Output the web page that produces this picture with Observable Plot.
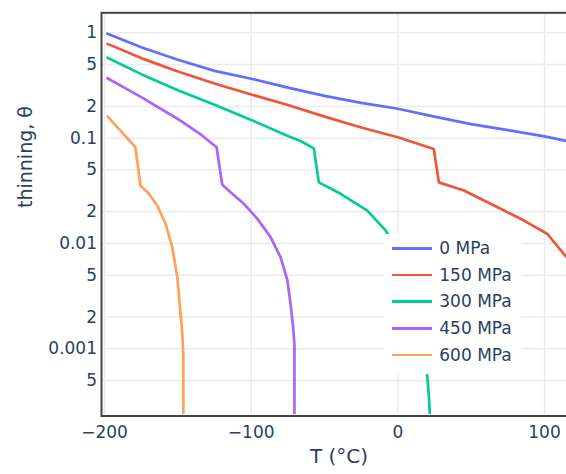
<!DOCTYPE html>
<html>
<head>
<meta charset="utf-8">
<script src="https://cdn.jsdelivr.net/npm/d3@7"></script>
<script src="https://cdn.jsdelivr.net/npm/@observablehq/plot@0.6"></script>
<style>
html, body { margin: 0; padding: 0; background: #fff; }
#chart { position: relative; width: 566px; height: 474px; overflow: hidden; }
#legend { position: absolute; left: 384px; top: 234px; width: 137px; height: 140px; background: #fff;
  font-family: "DejaVu Sans", sans-serif; font-size: 17px; color: #2a3f5f; }
.row { position: absolute; left: 0; height: 26.7px; display: flex; align-items: center; }
.sw { width: 40px; height: 2.7px; margin-left: 7.7px; }
.lb { margin-left: 7.6px; white-space: nowrap; line-height: 1; }
</style>
</head>
<body>
<div id="chart"></div>
<script>
// ---- data ----
const seriesNames = ["0 MPa", "150 MPa", "300 MPa", "450 MPa", "600 MPa"];

const T_0 = [-198, -175, -150, -125, -100, -75, -50, -25, 0, 25, 50, 75, 100, 115];
const theta_0 = [0.98, 0.73, 0.555, 0.435, 0.366, 0.302, 0.252, 0.216, 0.190, 0.160, 0.136, 0.119, 0.104, 0.094];

const T_150 = [-198, -175, -150, -125, -100, -75, -50, -25, 0, 24.5, 28, 45, 68, 86, 102, 115];
const theta_150 = [0.785, 0.575, 0.43, 0.33, 0.26, 0.206, 0.160, 0.126, 0.102, 0.079, 0.038, 0.0318, 0.0221, 0.0165, 0.0123, 0.0074];

const T_300 = [-198, -175, -150, -125, -100, -75, -66, -57.3, -53.9, -39, -32, -21, -8.4, 0, 8, 14, 18, 20, 21.2, 21.8, 22];
const theta_300 = [0.58, 0.405, 0.285, 0.207, 0.149, 0.105, 0.0935, 0.080, 0.038, 0.0296, 0.0256, 0.0206, 0.0133, 0.0085, 0.0045, 0.0022, 0.0011, 0.00056, 0.00035, 0.00024, 0.0001];

const T_450 = [-198, -175, -150, -135, -123.6, -119.8, -114.1, -105, -95.9, -86.8, -80, -75.4, -73.2, -71.4, -70.5, -70.5];
const theta_450 = [0.37, 0.245, 0.152, 0.110, 0.082, 0.0363, 0.0307, 0.0238, 0.0172, 0.0115, 0.0074, 0.0045, 0.0027, 0.0016, 0.0011, 0.0001];

const T_600 = [-198, -179, -175.5, -169.8, -164.1, -158.4, -153.9, -150.4, -148.6, -147, -146.3, -146.3];
const theta_600 = [0.161, 0.082, 0.0355, 0.0296, 0.0229, 0.0154, 0.0093, 0.0048, 0.0025, 0.0014, 0.0009, 0.0001];

const xTicks = [-200, -100, 0, 100];
const xTickLabels = ["\u2212200", "\u2212100", "0", "100"];
const yTicks = [1, 0.5, 0.2, 0.1, 0.05, 0.02, 0.01, 0.005, 0.002, 0.001, 0.0005];
const yTickLabels = ["1", "5", "2", "0.1", "5", "2", "0.01", "5", "2", "0.001", "5"];

const xTitle = "T (\u00B0C)";
const yTitle = "thinning, \u03B8";

// ---- styles ----
const colors = ["#636efa", "#EF553B", "#00cc96", "#ab63fa", "#FFA15A"];
const textColor = "#2a3f5f";
const gridColor = "#ebebeb";
const fontFamily = "DejaVu Sans";

// ---- build table ----
const seriesT = [T_0, T_150, T_300, T_450, T_600];
const seriesTheta = [theta_0, theta_150, theta_300, theta_450, theta_600];
const rows = [];
seriesNames.forEach((name, s) => {
  seriesT[s].forEach((t, i) => rows.push({series: name, T: t, theta: seriesTheta[s][i]}));
});

const xLabelOf = new Map(xTicks.map((v, i) => [v, xTickLabels[i]]));
const yLabelOf = new Map(yTicks.map((v, i) => [v, yTickLabels[i]]));

const chart = Plot.plot({
  width: 566,
  height: 474,
  marginLeft: 102,
  marginRight: 0,
  marginTop: 14,
  marginBottom: 60,
  style: {fontFamily: fontFamily, fontSize: "17px", color: textColor, background: "#fff"},
  x: {domain: [-201.4, 115], label: null},
  y: {type: "log", domain: [0.0002377, 1.492], label: null, axis: null},
  color: {domain: seriesNames, range: colors},
  marks: [
    Plot.gridX(xTicks, {stroke: gridColor, strokeOpacity: 1, strokeWidth: 1.5}),
    Plot.ruleY(yTicks, {y: d => d, stroke: gridColor, strokeOpacity: 1, strokeWidth: 1.5}),
    Plot.line(rows, {x: "T", y: "theta", z: "series", stroke: "series", strokeWidth: 2.7,
      strokeLinejoin: "round", clip: true}),
    Plot.frame({stroke: "#444", strokeWidth: 2, insetLeft: -1, insetTop: -1.7, insetBottom: -1.5, insetRight: -4}),
    Plot.axisX(xTicks, {tickSize: 0, tickPadding: 11, fontSize: 17, tickFormat: d => xLabelOf.get(d)}),
    Plot.text(yTicks, {y: d => d, text: d => yLabelOf.get(d), frameAnchor: "left", textAnchor: "end",
      dx: -5.5, fontSize: 17, fill: textColor}),
    Plot.text([xTitle], {frameAnchor: "bottom", dy: 48, dx: 4.5, fontSize: 20, fill: textColor}),
    Plot.text([yTitle], {frameAnchor: "left", rotate: -90, dx: -77, dy: -6.5, fontSize: 19, fill: textColor})
  ]
});

const holder = document.getElementById("chart");
holder.appendChild(chart);

// legend overlay (inside the plot area, as in the reference)
const legend = document.createElement("div");
legend.id = "legend";
seriesNames.forEach((name, i) => {
  const row = document.createElement("div");
  row.className = "row";
  row.style.top = (1 + i * 26.7) + "px";
  const sw = document.createElement("div");
  sw.className = "sw";
  sw.style.background = colors[i];
  const lb = document.createElement("span");
  lb.className = "lb";
  lb.textContent = name;
  row.appendChild(sw);
  row.appendChild(lb);
  legend.appendChild(row);
});
holder.appendChild(legend);
</script>
</body>
</html>
